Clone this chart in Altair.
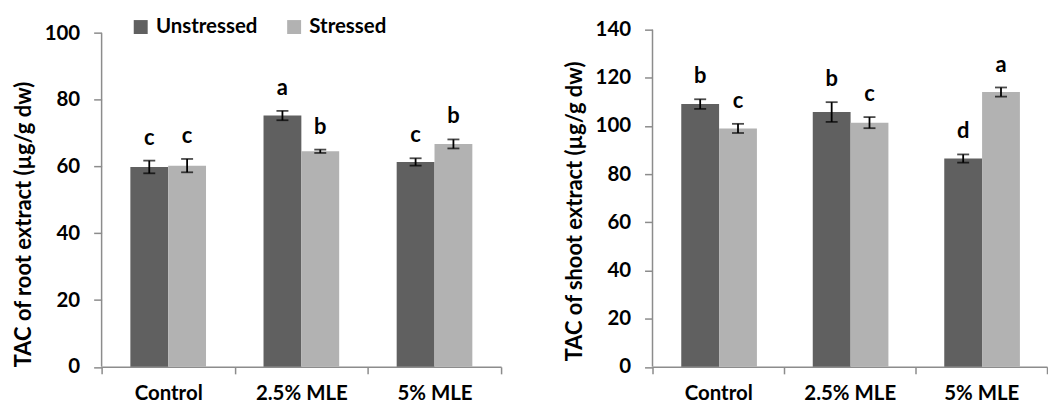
import altair as alt
import pandas as pd

# Treatments along x, stress condition as the paired bars
treatments = ["Control", "2.5% MLE", "5% MLE"]
conditions = ["Unstressed", "Stressed"]
bar_colors = ["#606060", "#b2b2b2"]

# Root extract: total antioxidant capacity (µg/g dw), error and significance letters
root_unstressed = [59.9, 75.3, 61.4]
root_stressed = [60.3, 64.6, 66.8]
root_unstressed_err = [1.9, 1.4, 1.1]
root_stressed_err = [2.0, 0.5, 1.35]
root_unstressed_letters = ["c", "a", "c"]
root_stressed_letters = ["c", "b", "b"]

# Shoot extract
shoot_unstressed = [109.1, 105.8, 86.5]
shoot_stressed = [99.0, 101.4, 114.1]
shoot_unstressed_err = [2.0, 4.1, 1.7]
shoot_stressed_err = [1.9, 2.3, 1.9]
shoot_unstressed_letters = ["b", "b", "d"]
shoot_stressed_letters = ["c", "c", "a"]

root_ticks = [0, 20, 40, 60, 80, 100]
shoot_ticks = [0, 20, 40, 60, 80, 100, 120, 140]

FONT = "Lato"
AXIS_GREY = "#8c8c8c"
PLOT_H = 338.5


def build_frame(unstressed, stressed, u_err, s_err, u_let, s_let):
    rows = []
    for i, t in enumerate(treatments):
        for cond, vals, errs, lets in (
            ("Unstressed", unstressed, u_err, u_let),
            ("Stressed", stressed, s_err, s_let),
        ):
            v, e = vals[i], errs[i]
            rows.append({"treatment": t, "condition": cond, "value": v,
                         "lo": v - e, "hi": v + e, "letter": lets[i]})
    return pd.DataFrame(rows)


root_df = build_frame(root_unstressed, root_stressed, root_unstressed_err,
                      root_stressed_err, root_unstressed_letters, root_stressed_letters)
shoot_df = build_frame(shoot_unstressed, shoot_stressed, shoot_unstressed_err,
                       shoot_stressed_err, shoot_unstressed_letters, shoot_stressed_letters)


def panel(df, title, ymax, tick_values, width, show_legend, axis_top, title_y):
    x = alt.X("treatment:N", sort=treatments,
              scale=alt.Scale(paddingInner=0, paddingOuter=0),
              axis=alt.Axis(title=None, labelAngle=0, tickBand="extent",
                            tickSize=7, labelPadding=10, labelFont=FONT,
                            labelFontSize=20.5, labelFontWeight="bold",
                            labelColor="black", domainColor=AXIS_GREY,
                            tickColor=AXIS_GREY, domainWidth=1.5, tickWidth=1.5))
    xo = alt.XOffset("condition:N", sort=conditions,
                     scale=alt.Scale(paddingInner=0, paddingOuter=0.76))
    yscale = alt.Scale(domain=[0, ymax], nice=False, zero=True)
    yaxis = alt.Axis(title=title, values=tick_values, grid=False, domain=False,
                     tickSize=8, tickColor=AXIS_GREY, tickWidth=1.5,
                     labelPadding=14, labelFont=FONT, labelFontSize=20.5,
                     labelFontWeight="bold", labelColor="black",
                     titleFont=FONT, titleFontSize=22, titleFontWeight="bold",
                     titleColor="black", titlePadding=9, titleY=title_y)

    def yenc(field):
        return alt.Y(field, scale=yscale, axis=yaxis, title=title)

    color = alt.Color("condition:N", sort=conditions,
                      scale=alt.Scale(domain=conditions, range=bar_colors),
                      legend=alt.Legend(
                          title=None, orient="none", legendX=29, legendY=-13,
                          direction="horizontal", columns=2, padding=0,
                          symbolType="square", symbolSize=196,
                          symbolStrokeWidth=0, symbolOffset=0,
                          labelFont=FONT, labelFontSize=20.5,
                          labelFontWeight="bold", labelColor="black",
                          labelOffset=5, columnPadding=26)
                      if show_legend else None)

    base = alt.Chart(df)

    bars = base.mark_bar(stroke=None).encode(
        x=x, xOffset=xo, y=yenc("value:Q"), color=color)
    stems = base.mark_rule(color="black", strokeWidth=1.8).encode(
        x=x, xOffset=xo, y=yenc("lo:Q"), y2="hi:Q")
    caps_lo = base.mark_tick(color="black", size=12, thickness=1.8).encode(
        x=x, xOffset=xo, y=yenc("lo:Q"))
    caps_hi = base.mark_tick(color="black", size=12, thickness=1.8).encode(
        x=x, xOffset=xo, y=yenc("hi:Q"))
    letters = base.mark_text(font=FONT, fontSize=22, fontWeight="bold",
                             color="black", baseline="bottom", dy=-11).encode(
        x=x, xOffset=xo, y=yenc("hi:Q"), text="letter:N")
    # vertical axis line, running from 0 up to the top tick
    y_line = alt.Chart(pd.DataFrame({"y0": [0], "y1": [axis_top]})).mark_rule(
        color=AXIS_GREY, strokeWidth=1.5).encode(
        x=alt.value(0), y=yenc("y0:Q"), y2="y1:Q")

    return alt.layer(bars, stems, caps_lo, caps_hi, letters, y_line).properties(
        width=width, height=PLOT_H)


root_chart = panel(root_df, "TAC of root extract (µg/g dw)", 101.04,
                   root_ticks, 401, True, 100, 195)
shoot_chart = panel(shoot_df, "TAC of shoot extract (µg/g dw)", 140,
                    shoot_ticks, 396, False, 140, 182)

chart = alt.hconcat(root_chart, shoot_chart, spacing=152, bounds="flush").resolve_scale(
    color="independent", y="independent", x="independent"
).properties(
    padding={"left": 12, "top": 16, "right": 0, "bottom": 0},
    background="white",
).configure_view(stroke=None)

chart.save("out.html", embed_options={"renderer": "svg", "actions": False})
